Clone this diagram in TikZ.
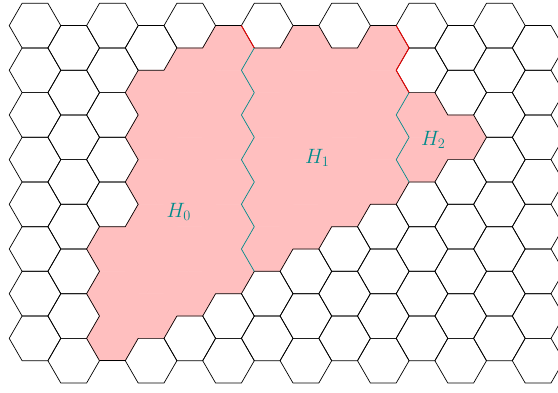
\documentclass[tikz,border=0pt]{standalone}
\usepackage{tikz}
\usetikzlibrary{calc}
\definecolor{cellpink}{RGB}{255,191,191}
\definecolor{splitteal}{RGB}{0,139,139}
\newcommand\hexside{25.8}

\tikzset{
  hexcell/.pic={\path[pic actions] (0:\hexside) -- (60:\hexside) -- (120:\hexside)
      -- (180:\hexside) -- (240:\hexside) -- (300:\hexside) -- cycle;}
}

\begin{document}
\begin{tikzpicture}[
    x=1pt, y=1pt,
    cellline/.style={draw=black, line width=0.7pt, line join=round},
    cellfill/.style={fill=cellpink, draw=cellpink, line width=0.7pt},
    splitline/.style={draw=splitteal, line width=0.7pt, line join=round},
    rimline/.style={draw=red, line width=0.8pt, line join=round},
    hlabel/.style={text=splitteal, font=\huge, inner sep=0pt}
]
\clip (0,0) rectangle (558,392);

%% ---- Cell centres ----
\foreach \k in {0,...,13}{
  \foreach \j in {0,...,7}{
    \pgfmathsetmacro\cx{35+38.7*\k}
    \pgfmathsetmacro\cy{366.4-44.68*\j-22.34*mod(\k,2)}
    \coordinate (c-\k-\j) at (\cx,\cy);
  }
}

%% ---- Shaded cells ----
\foreach \k/\lo/\hi in {2/5/7, 3/1/6, 4/1/6, 5/0/5, 6/1/5, 7/0/4, 8/1/4, 9/0/3, 10/2/3, 11/2/2}{
  \foreach \j in {\lo,...,\hi}
    \pic[cellfill] at (c-\k-\j) {hexcell};
}

%% ---- Plain cells ----
\foreach \k in {0,...,13}{
  \foreach \j in {0,...,7}{
    \pgfmathtruncatemacro\inpink{(\j >= {9,9,5,1,1,0,1,0,1,0,2,2,9,9}[\k]) && (\j <= {-1,-1,7,6,6,5,5,4,4,3,3,2,-1,-1}[\k])}
    \ifnum\inpink=0 \pic[cellline] at (c-\k-\j) {hexcell}; \fi
  }
}

% outer edges of the shaded region
\foreach \c in {c-5-0, c-7-0, c-9-0}
  \draw[cellline] ($(\c)+(120:\hexside)$) -- ($(\c)+(60:\hexside)$);
\draw[cellline] ($(c-2-7)+(240:\hexside)$) -- ($(c-2-7)+(300:\hexside)$);

%% ---- Splits ----
\draw[rimline] ($(c-5-0)+(60:\hexside)$) -- ($(c-5-0)+(0:\hexside)$);
\draw[rimline] ($(c-9-0)+(60:\hexside)$) -- ($(c-9-0)+(0:\hexside)$)
    -- ($(c-9-0)+(300:\hexside)$) -- ($(c-9-1)+(0:\hexside)$);

\draw[splitline] ($(c-5-0)+(0:\hexside)$)
    \foreach \i in {1,...,5}{ -- ++(240:\hexside) -- ++(300:\hexside)};
\draw[splitline] ($(c-9-1)+(0:\hexside)$)
    \foreach \i in {1,2}{ -- ++(240:\hexside) -- ++(300:\hexside)};

%% ---- Labels ----
\node[hlabel] (h0) at (178.7,180) {$H_0$};
\node[hlabel] (h1) at (317.3,234.5) {$H_1$};
\node[hlabel] (h2) at (433.3,252) {$H_2$};

\end{tikzpicture}
\end{document}
